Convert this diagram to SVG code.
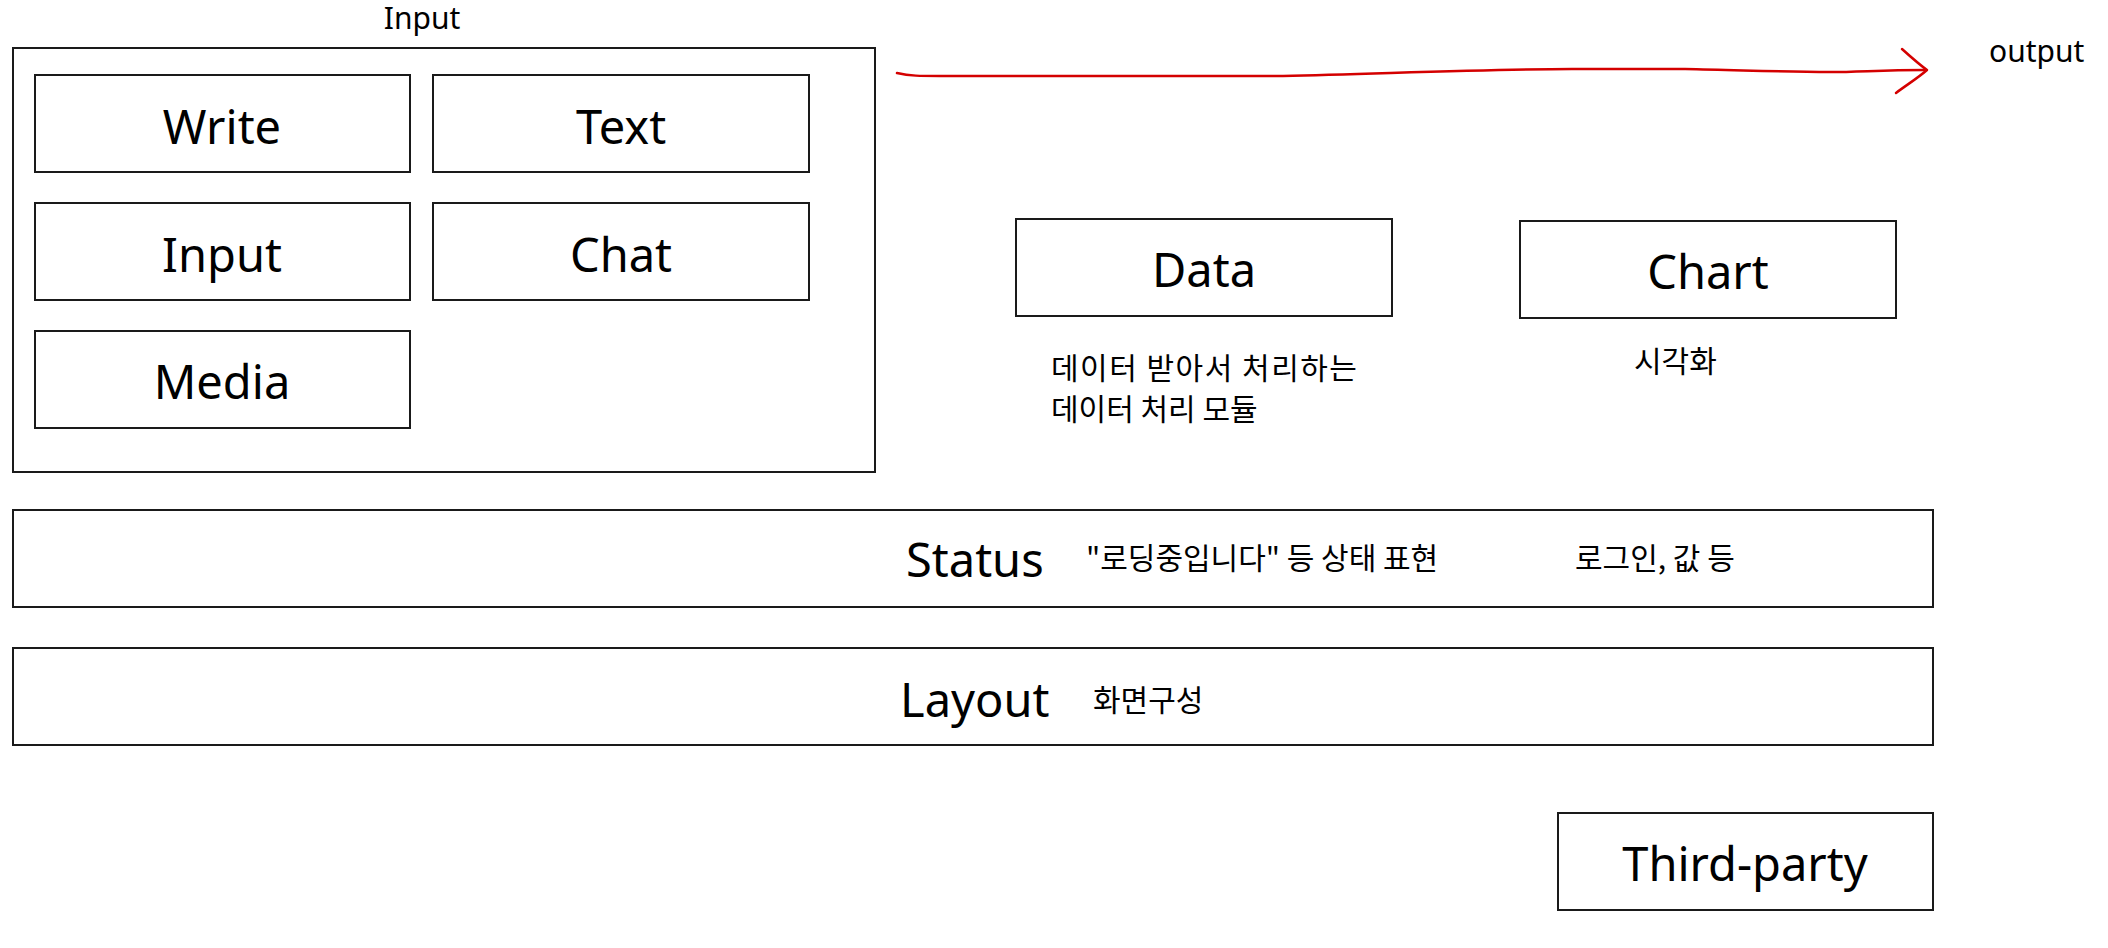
<svg xmlns="http://www.w3.org/2000/svg" width="2108" height="948" viewBox="0 0 2108 948">
<style>
.box{fill:#fff;stroke:#1a1a1a;stroke-width:2}
.lbl{font-family:"Noto Sans","Noto Sans CJK KR",sans-serif;font-size:47px;fill:#000;text-anchor:middle}
.lbs{font-family:"Noto Sans","Noto Sans CJK KR",sans-serif;font-size:47px;fill:#000;text-anchor:start}
.sm{font-family:"Noto Sans","Noto Sans CJK KR",sans-serif;font-size:30px;fill:#000}
.ko{font-family:"Noto Sans CJK KR","Noto Sans",sans-serif;font-size:30px;fill:#000}
.red{fill:none;stroke:#d40000;stroke-width:2.5;stroke-linecap:round;stroke-linejoin:round}
</style>
<rect width="2108" height="948" fill="#fff"/>
<g id="input-group">
  <rect class="box" x="13" y="48" width="862" height="424"/>
  <text class="sm" x="422" y="29" text-anchor="middle">Input</text>
</g>
<g id="write"><rect class="box" x="35" y="75" width="375" height="97"/><text class="lbl" x="222" y="144">Write</text></g>
<g id="text"><rect class="box" x="433" y="75" width="376" height="97"/><text class="lbl" x="621" y="144">Text</text></g>
<g id="input"><rect class="box" x="35" y="203" width="375" height="97"/><text class="lbl" x="222" y="272">Input</text></g>
<g id="chat"><rect class="box" x="433" y="203" width="376" height="97"/><text class="lbl" x="621" y="272">Chat</text></g>
<g id="media"><rect class="box" x="35" y="331" width="375" height="97"/><text class="lbl" x="222" y="399">Media</text></g>
<g id="data">
  <rect class="box" x="1016" y="219" width="376" height="97"/>
  <text class="lbl" x="1204" y="287">Data</text>
  <text class="ko" x="1051" y="379" letter-spacing="1.5">데이터 받아서 처리하는</text>
  <text class="ko" x="1051" y="420">데이터 처리 모듈</text>
</g>
<g id="chart">
  <rect class="box" x="1520" y="221" width="376" height="97"/>
  <text class="lbl" x="1708" y="289">Chart</text>
  <text class="ko" x="1634" y="372">시각화</text>
</g>
<g id="status">
  <rect class="box" x="13" y="510" width="1920" height="97"/>
  <text class="lbs" x="906" y="577">Status</text>
  <text class="ko" x="1086" y="569">"로딩중입니다" 등 상태 표현</text>
  <text class="ko" x="1575" y="569">로그인, 값 등</text>
</g>
<g id="layout">
  <rect class="box" x="13" y="648" width="1920" height="97"/>
  <text class="lbs" x="900" y="717">Layout</text>
  <text class="ko" x="1093" y="711">화면구성</text>
</g>
<g id="third-party"><rect class="box" x="1558" y="813" width="375" height="97"/><text class="lbl" x="1745" y="881">Third-party</text></g>
<g id="connectors">
  <path class="red" d="M897,73 C910,76 920,76 940,76 L1283,76 C1400,73 1500,69 1572,69 L1685,69 C1740,70 1780,72 1830,72 C1860,72 1880,70 1925,70"/>
  <path class="red" d="M1902,49 C1912,58 1920,65 1927,70 C1918,78 1905,86 1896,93"/>
  <text class="sm" x="1989" y="62">output</text>
</g>
</svg>
